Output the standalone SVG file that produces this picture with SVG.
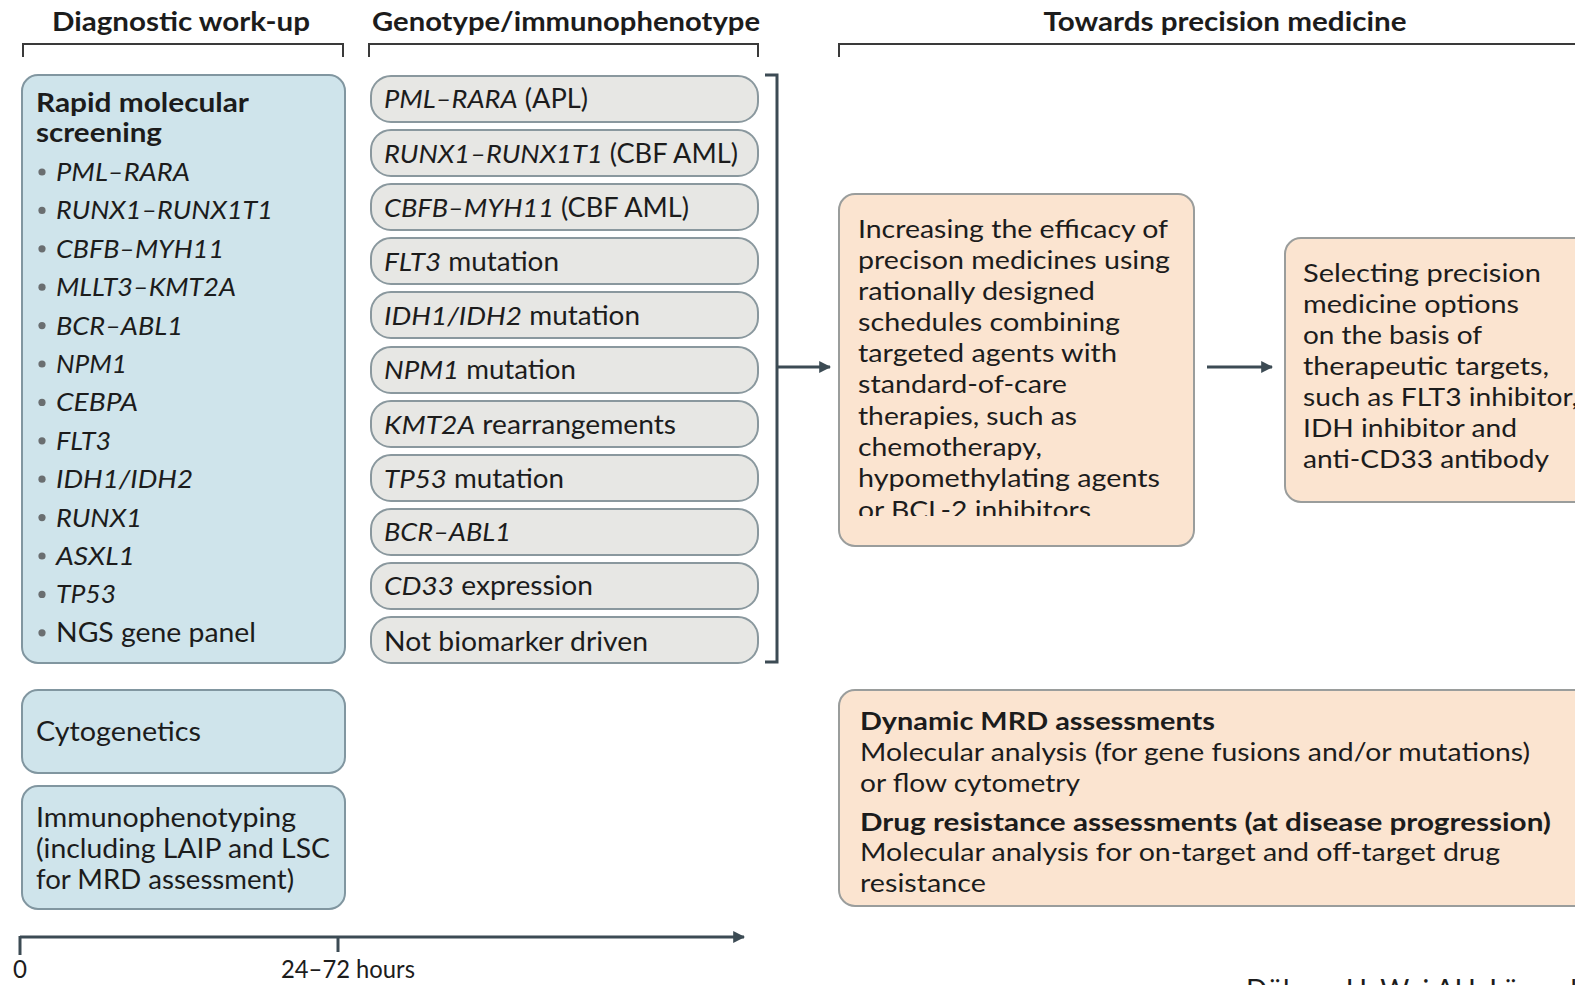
<svg xmlns="http://www.w3.org/2000/svg" width="1575" height="985" viewBox="0 0 1575 985">
  <defs>
    <style>
      text { font-family: Lato, "Open Sans", "Liberation Sans", sans-serif; fill: #1c1c1c; }
      .hdr { font-size: 26px; font-weight: 700; text-anchor: middle; }
      .t26 { font-size: 26px; }
      .t25 { font-size: 25px; }
      .b { font-weight: 700; }
      .i { font-style: italic; }
      .blue { fill: #cfe4eb; stroke: #8196a0; stroke-width: 2; }
      .pill { fill: #e7e7e4; stroke: #8a989e; stroke-width: 2; }
      .peach { fill: #fbe4d0; stroke: #9a9d9c; stroke-width: 2; }
      .brk { fill: none; stroke: #3a3a3a; stroke-width: 2; }
      .con { fill: none; stroke: #3c4b54; stroke-width: 3; }
      .dot { fill: #6a6e70; }
    </style>
    <marker id="ah" viewBox="0 0 10 10" refX="9" refY="5" markerWidth="4" markerHeight="4" orient="auto" markerUnits="strokeWidth">
      <path d="M0,0 L10,5 L0,10 Z" fill="#3c4b54"/>
    </marker>
    <clipPath id="clipEff">
      <rect x="839" y="194" width="356" height="322"/>
    </clipPath>
  </defs>

  <rect width="1575" height="985" fill="#ffffff"/>

  <!-- column headings with brackets -->
  <g id="headings">
    <text class="hdr" x="181" y="31" textLength="258" lengthAdjust="spacingAndGlyphs">Diagnostic work-up</text>
    <text class="hdr" x="566" y="31" textLength="388" lengthAdjust="spacingAndGlyphs">Genotype/immunophenotype</text>
    <text class="hdr" x="1225" y="31" textLength="363" lengthAdjust="spacingAndGlyphs">Towards precision medicine</text>
    <path class="brk" d="M23,57 V44 H343 V57"/>
    <path class="brk" d="M369,57 V44 H758 V57"/>
    <path class="brk" d="M839,57 V44 H1580"/>
  </g>

  <!-- diagnostic work-up column -->
  <g id="rapid-screening">
    <rect class="blue" x="22" y="75" width="323" height="588" rx="16"/>
    <text class="t26 b" x="36" y="112" textLength="213" lengthAdjust="spacingAndGlyphs">Rapid molecular</text>
    <text class="t26 b" x="36" y="142" textLength="126" lengthAdjust="spacingAndGlyphs">screening</text>
    <g class="dot">
      <circle cx="42" cy="172" r="3.6"/>
      <circle cx="42" cy="210.4" r="3.6"/>
      <circle cx="42" cy="248.8" r="3.6"/>
      <circle cx="42" cy="287.2" r="3.6"/>
      <circle cx="42" cy="325.6" r="3.6"/>
      <circle cx="42" cy="364" r="3.6"/>
      <circle cx="42" cy="402.4" r="3.6"/>
      <circle cx="42" cy="440.8" r="3.6"/>
      <circle cx="42" cy="479.2" r="3.6"/>
      <circle cx="42" cy="517.6" r="3.6"/>
      <circle cx="42" cy="556" r="3.6"/>
      <circle cx="42" cy="594.4" r="3.6"/>
      <circle cx="42" cy="632.8" r="3.6"/>
    </g>
    <text class="t26 i" x="56" y="181" textLength="134" lengthAdjust="spacingAndGlyphs">PML–RARA</text>
    <text class="t26 i" x="56" y="219.4" textLength="217" lengthAdjust="spacingAndGlyphs">RUNX1–RUNX1T1</text>
    <text class="t26 i" x="56" y="257.8" textLength="168" lengthAdjust="spacingAndGlyphs">CBFB–MYH11</text>
    <text class="t26 i" x="56" y="296.2" textLength="180" lengthAdjust="spacingAndGlyphs">MLLT3–KMT2A</text>
    <text class="t26 i" x="56" y="334.6" textLength="127" lengthAdjust="spacingAndGlyphs">BCR–ABL1</text>
    <text class="t26 i" x="56" y="373" textLength="71" lengthAdjust="spacingAndGlyphs">NPM1</text>
    <text class="t26 i" x="56" y="411.4" textLength="82" lengthAdjust="spacingAndGlyphs">CEBPA</text>
    <text class="t26 i" x="56" y="449.8" textLength="55" lengthAdjust="spacingAndGlyphs">FLT3</text>
    <text class="t26 i" x="56" y="488.2" textLength="137" lengthAdjust="spacingAndGlyphs">IDH1/IDH2</text>
    <text class="t26 i" x="56" y="526.6" textLength="86" lengthAdjust="spacingAndGlyphs">RUNX1</text>
    <text class="t26 i" x="56" y="565" textLength="79" lengthAdjust="spacingAndGlyphs">ASXL1</text>
    <text class="t26 i" x="56" y="603.4" textLength="60" lengthAdjust="spacingAndGlyphs">TP53</text>
    <text class="t26" x="56" y="641.8" textLength="200" lengthAdjust="spacingAndGlyphs">NGS gene panel</text>
  </g>

  <g id="cytogenetics">
    <rect class="blue" x="22" y="690" width="323" height="83" rx="16"/>
    <text class="t26" x="36" y="741" textLength="165" lengthAdjust="spacingAndGlyphs">Cytogenetics</text>
  </g>

  <g id="immunophenotyping">
    <rect class="blue" x="22" y="786" width="323" height="123" rx="16"/>
    <text class="t26" x="36" y="827" textLength="260" lengthAdjust="spacingAndGlyphs">Immunophenotyping</text>
    <text class="t26" x="36" y="858" textLength="294" lengthAdjust="spacingAndGlyphs">(including LAIP and LSC</text>
    <text class="t26" x="36" y="889" textLength="258" lengthAdjust="spacingAndGlyphs">for MRD assessment)</text>
  </g>

  <!-- genotype / immunophenotype column -->
  <g id="geno-pml-rara">
    <rect class="pill" x="371" y="76" width="387" height="46" rx="20"/>
    <text class="t26" x="384" y="108" textLength="204" lengthAdjust="spacingAndGlyphs"><tspan class="i">PML–RARA</tspan> (APL)</text>
  </g>
  <g id="geno-runx1-runx1t1">
    <rect class="pill" x="371" y="130" width="387" height="46" rx="20"/>
    <text class="t26" x="384" y="163" textLength="354" lengthAdjust="spacingAndGlyphs"><tspan class="i">RUNX1–RUNX1T1</tspan> (CBF AML)</text>
  </g>
  <g id="geno-cbfb-myh11">
    <rect class="pill" x="371" y="184" width="387" height="46" rx="20"/>
    <text class="t26" x="384" y="217" textLength="305" lengthAdjust="spacingAndGlyphs"><tspan class="i">CBFB–MYH11</tspan> (CBF AML)</text>
  </g>
  <g id="geno-flt3">
    <rect class="pill" x="371" y="238" width="387" height="46" rx="20"/>
    <text class="t26" x="384" y="271" textLength="175" lengthAdjust="spacingAndGlyphs"><tspan class="i">FLT3</tspan> mutation</text>
  </g>
  <g id="geno-idh">
    <rect class="pill" x="371" y="292" width="387" height="46" rx="20"/>
    <text class="t26" x="384" y="325" textLength="256" lengthAdjust="spacingAndGlyphs"><tspan class="i">IDH1/IDH2</tspan> mutation</text>
  </g>
  <g id="geno-npm1">
    <rect class="pill" x="371" y="347" width="387" height="46" rx="20"/>
    <text class="t26" x="384" y="379" textLength="192" lengthAdjust="spacingAndGlyphs"><tspan class="i">NPM1</tspan> mutation</text>
  </g>
  <g id="geno-kmt2a">
    <rect class="pill" x="371" y="401" width="387" height="46" rx="20"/>
    <text class="t26" x="384" y="434" textLength="292" lengthAdjust="spacingAndGlyphs"><tspan class="i">KMT2A</tspan> rearrangements</text>
  </g>
  <g id="geno-tp53">
    <rect class="pill" x="371" y="455" width="387" height="46" rx="20"/>
    <text class="t26" x="384" y="488" textLength="180" lengthAdjust="spacingAndGlyphs"><tspan class="i">TP53</tspan> mutation</text>
  </g>
  <g id="geno-bcr-abl1">
    <rect class="pill" x="371" y="509" width="387" height="46" rx="20"/>
    <text class="t26 i" x="384" y="541" textLength="127" lengthAdjust="spacingAndGlyphs">BCR–ABL1</text>
  </g>
  <g id="geno-cd33">
    <rect class="pill" x="371" y="563" width="387" height="46" rx="20"/>
    <text class="t26" x="384" y="595" textLength="209" lengthAdjust="spacingAndGlyphs"><tspan class="i">CD33</tspan> expression</text>
  </g>
  <g id="geno-none">
    <rect class="pill" x="371" y="617" width="387" height="46" rx="20"/>
    <text class="t26" x="384" y="651" textLength="264" lengthAdjust="spacingAndGlyphs">Not biomarker driven</text>
  </g>

  <!-- precision medicine column -->
  <g id="combination-schedules">
    <rect class="peach" x="839" y="194" width="355" height="352" rx="16"/>
    <g clip-path="url(#clipEff)">
      <text class="t25" x="858" y="238" textLength="310" lengthAdjust="spacingAndGlyphs">Increasing the efficacy of</text>
      <text class="t25" x="858" y="269" textLength="312" lengthAdjust="spacingAndGlyphs">precison medicines using</text>
      <text class="t25" x="858" y="300" textLength="237" lengthAdjust="spacingAndGlyphs">rationally designed</text>
      <text class="t25" x="858" y="331" textLength="262" lengthAdjust="spacingAndGlyphs">schedules combining</text>
      <text class="t25" x="858" y="362" textLength="259" lengthAdjust="spacingAndGlyphs">targeted agents with</text>
      <text class="t25" x="858" y="393" textLength="209" lengthAdjust="spacingAndGlyphs">standard-of-care</text>
      <text class="t25" x="858" y="425" textLength="219" lengthAdjust="spacingAndGlyphs">therapies, such as</text>
      <text class="t25" x="858" y="456" textLength="184" lengthAdjust="spacingAndGlyphs">chemotherapy,</text>
      <text class="t25" x="858" y="487" textLength="302" lengthAdjust="spacingAndGlyphs">hypomethylating agents</text>
      <text class="t25" x="858" y="519" textLength="233" lengthAdjust="spacingAndGlyphs">or BCL-2 inhibitors</text>
    </g>
  </g>

  <g id="target-selection">
    <rect class="peach" x="1285" y="238" width="310" height="264" rx="16"/>
    <text class="t25" x="1303" y="282" textLength="238" lengthAdjust="spacingAndGlyphs">Selecting precision</text>
    <text class="t25" x="1303" y="313" textLength="216" lengthAdjust="spacingAndGlyphs">medicine options</text>
    <text class="t25" x="1303" y="344" textLength="179" lengthAdjust="spacingAndGlyphs">on the basis of</text>
    <text class="t25" x="1303" y="375" textLength="246" lengthAdjust="spacingAndGlyphs">therapeutic targets,</text>
    <text class="t25" x="1303" y="406" textLength="275" lengthAdjust="spacingAndGlyphs">such as FLT3 inhibitor,</text>
    <text class="t25" x="1303" y="437" textLength="214" lengthAdjust="spacingAndGlyphs">IDH inhibitor and</text>
    <text class="t25" x="1303" y="468" textLength="246" lengthAdjust="spacingAndGlyphs">anti-CD33 antibody</text>
  </g>

  <g id="monitoring">
    <rect class="peach" x="839" y="690" width="760" height="216" rx="16"/>
    <text class="t25 b" x="860" y="730" textLength="355" lengthAdjust="spacingAndGlyphs">Dynamic MRD assessments</text>
    <text class="t25" x="860" y="761" textLength="670" lengthAdjust="spacingAndGlyphs">Molecular analysis (for gene fusions and/or mutations)</text>
    <text class="t25" x="860" y="792" textLength="220" lengthAdjust="spacingAndGlyphs">or flow cytometry</text>
    <text class="t25 b" x="860" y="831" textLength="691" lengthAdjust="spacingAndGlyphs">Drug resistance assessments (at disease progression)</text>
    <text class="t25" x="860" y="861" textLength="640" lengthAdjust="spacingAndGlyphs">Molecular analysis for on-target and off-target drug</text>
    <text class="t25" x="860" y="892" textLength="126" lengthAdjust="spacingAndGlyphs">resistance</text>
  </g>

  <!-- connectors -->
  <g id="connectors">
    <path class="con" d="M765,75 H777 V662 H765"/>
    <line class="con" x1="777" y1="367" x2="830" y2="367" marker-end="url(#ah)"/>
    <line class="con" x1="1207" y1="367" x2="1272" y2="367" marker-end="url(#ah)"/>
  </g>

  <!-- time axis -->
  <g id="timeline">
    <line class="con" x1="20" y1="937" x2="744" y2="937" stroke-width="2.5" marker-end="url(#ah)"/>
    <line class="con" x1="20" y1="936" x2="20" y2="955" stroke-width="2.5"/>
    <line class="con" x1="338" y1="936" x2="338" y2="952" stroke-width="2"/>
    <text class="t25" x="13" y="978" textLength="14" lengthAdjust="spacingAndGlyphs">0</text>
    <text class="t25" x="281" y="978" textLength="134" lengthAdjust="spacingAndGlyphs">24–72 hours</text>
  </g>

  <text x="1246" y="1000" font-family="'Liberation Sans', Arial, sans-serif" font-size="28" fill="#1c1c1c">Döhner H, Wei AH, Löwenberg B</text>
</svg>
